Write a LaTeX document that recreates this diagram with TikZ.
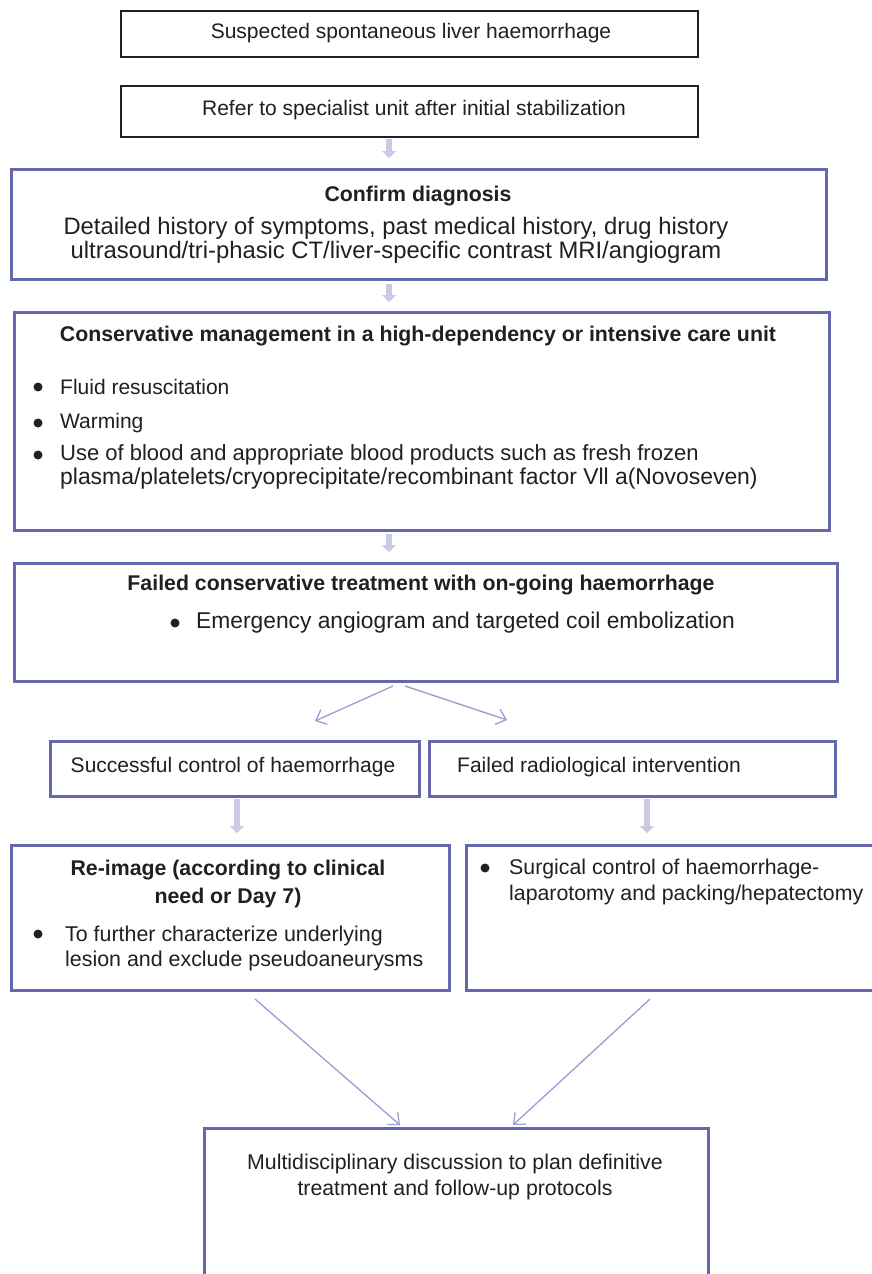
\documentclass[tikz,border=0pt]{standalone}
\usepackage{fontspec}
\setmainfont{Liberation Sans}
\usetikzlibrary{arrows.meta}
\definecolor{boxblue}{HTML}{6567AF}
\definecolor{fatarrow}{HTML}{CACAE6}
\definecolor{thinarrow}{HTML}{9C9CD6}
\definecolor{ink}{HTML}{231F20}
\tikzset{
  blackbox/.style={draw=ink, line width=2pt, rectangle, anchor=north west, inner sep=0pt},
  bluebox/.style={draw=boxblue, line width=3pt, rectangle, anchor=north west, inner sep=0pt},
  txt/.style={text=ink, inner sep=0pt, font=\fontsize{21}{24}\selectfont},
  ttl/.style={txt, font=\fontsize{21.3}{28}\selectfont\bfseries},
  dotb/.style={circle, fill=ink, minimum size=9pt, inner sep=0pt},
  fat/.style={draw=fatarrow, line width=6pt, -{Triangle[length=7pt,width=14pt]}},
  thin/.style={draw=thinarrow, line width=1.3pt, -{Straight Barb[length=9pt,width=16pt]}}
}
\begin{document}
\begin{tikzpicture}[x=1pt,y=-1pt]
\clip (0,0) rectangle (872,1274);
\fill[white] (0,0) rectangle (872,1274);
% boxes
\node[blackbox, minimum width=577pt, minimum height=46pt] (b1) at (120,10) {};
\node[blackbox, minimum width=577pt, minimum height=51pt] (b2) at (120,85) {};
\node[bluebox, minimum width=815pt, minimum height=110pt] (b3) at (10,168) {};
\node[bluebox, minimum width=815pt, minimum height=218pt] (b4) at (13,311) {};
\node[bluebox, minimum width=823pt, minimum height=118pt] (b5) at (13,562) {};
\node[bluebox, minimum width=369pt, minimum height=55pt] (b6) at (49,740) {};
\node[bluebox, minimum width=406pt, minimum height=55pt] (b7) at (428,740) {};
\node[bluebox, minimum width=438pt, minimum height=145pt] (b8) at (10,844) {};
\node[bluebox, minimum width=420pt, minimum height=145pt] (b9) at (465,844) {};
\node[bluebox, minimum width=504pt, minimum height=170pt] (b10) at (203,1127) {};
% texts
\node[txt] (t1) at (411,33) {Suspected spontaneous liver haemorrhage};
\node[txt] (t2) at (414,110) {Refer to specialist unit after initial stabilization};
\node[ttl] (t3a) at (418,196) {Confirm diagnosis};
\node[txt, align=center, font=\fontsize{23.8}{24}\selectfont] (t3b) at (396,240) {Detailed history of symptoms, past medical history, drug history\\ultrasound/tri-phasic CT/liver-specific contrast MRI/angiogram};
\node[ttl] (t4a) at (418,336) {Conservative management in a high-dependency or intensive care unit};
\node[dotb] (d41) at (38,387) {};
\node[txt, anchor=west] (t41) at (60,387) {Fluid resuscitation};
\node[dotb] (d42) at (38,423) {};
\node[txt, anchor=west] (t42) at (60,423) {Warming};
\node[dotb] (d43) at (38,455) {};
\node[txt, anchor=west, align=left, font=\fontsize{22}{24}\selectfont] (t43) at (60,467) {Use of blood and appropriate blood products such as fresh frozen\\{\fontsize{22.9}{24}\selectfont plasma/platelets/cryoprecipitate/recombinant factor Vll a(Novoseven)}};
\node[ttl] (t5a) at (421,585) {Failed conservative treatment with on-going haemorrhage};
\node[dotb] (d5) at (175,623) {};
\node[txt, anchor=west, font=\fontsize{22.8}{26}\selectfont] (t5) at (196,623) {Emergency angiogram and targeted coil embolization};
\node[txt] (t6) at (233,767) {Successful control of haemorrhage};
\node[txt] (t7) at (599,767) {Failed radiological intervention};
\node[ttl, align=center] (t8a) at (228,884) {Re-image (according to clinical\\need or Day 7)};
\node[dotb] (d8) at (38,934) {};
\node[txt, anchor=west, align=left, font=\fontsize{21.4}{25}\selectfont] (t8) at (65,948) {To further characterize underlying\\lesion and exclude pseudoaneurysms};
\node[dotb] (d9) at (485,868) {};
\node[txt, anchor=west, align=left, font=\fontsize{21.3}{26}\selectfont] (t9) at (509,882) {Surgical control of haemorrhage-\\laparotomy and packing/hepatectomy};
\node[txt, align=center, font=\fontsize{21.3}{26}\selectfont] (t10) at (455,1177) {Multidisciplinary discussion to plan definitive\\treatment and follow-up protocols};
% connector reference points
\coordinate (cx) at (389,0);
\coordinate (lx) at (237,0);
\coordinate (rx) at (647,0);
\coordinate (s1) at (393,686);
\coordinate (e1) at (315,721);
\coordinate (s2) at (405,686);
\coordinate (e2) at (507,720);
\coordinate (s3) at (255,999);
\coordinate (e3) at (400,1125);
\coordinate (s4) at (650,999);
\coordinate (e4) at (513,1125);
% connectors
\draw[fat, shorten <=1pt, shorten >=10pt] (b2.south -| cx) -- (b3.north -| cx);
\draw[fat, shorten <=3pt, shorten >=9pt] (b3.south -| cx) -- (b4.north -| cx);
\draw[fat, shorten <=2pt, shorten >=10pt] (b4.south -| cx) -- (b5.north -| cx);
\draw[thin] (s1) -- (e1);
\draw[thin] (s2) -- (e2);
\draw[fat, shorten <=1pt, shorten >=11pt] (b6.south -| lx) -- (b8.north -| lx);
\draw[fat, shorten <=1pt, shorten >=11pt] (b7.south -| rx) -- (b9.north -| rx);
\draw[thin] (s3) -- (e3);
\draw[thin] (s4) -- (e4);
\end{tikzpicture}
\end{document}
